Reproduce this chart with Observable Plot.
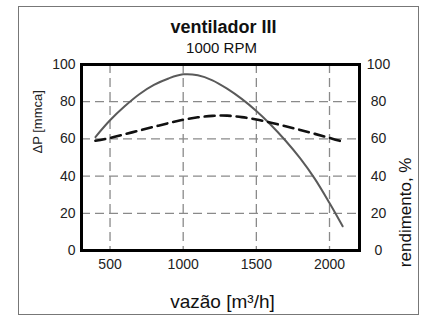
<!DOCTYPE html>
<html>
<head>
<meta charset="utf-8">
<script src="https://cdn.jsdelivr.net/npm/d3@7"></script>
<script src="https://cdn.jsdelivr.net/npm/@observablehq/plot@0.6"></script>
<style>
  html, body { margin: 0; padding: 0; background: #fff; }
  #wrap { position: relative; width: 423px; height: 318px; }
  #border { position: absolute; left: 18px; top: 6px; width: 401px; height: 309px; border: 1.5px solid #777; box-sizing: border-box; pointer-events: none; }
</style>
</head>
<body>
<div id="wrap"><div id="border"></div></div>
<script>
const title = "ventilador III";
const subtitle = "1000 RPM";
const xLabel = "vazão [m³/h]";
const yLeftLabel = "ΔP [mmca]";
const yRightLabel = "rendimento, %";
const xTicks = [500, 1000, 1500, 2000];
const yTicks = [0, 20, 40, 60, 80, 100];

// pressure curve (solid)
const flowP = [400, 500, 600, 700, 800, 900, 1000, 1100, 1200, 1300, 1400, 1500, 1600, 1700, 1800, 1900, 2000, 2090];
const pressure = [61, 70, 77.5, 84, 89, 92.5, 94.7, 94.2, 91.5, 87, 81.5, 75, 67.5, 59, 49.5, 38.5, 25.5, 13];

// efficiency curve (dashed)
const flowE = [400, 500, 600, 700, 800, 900, 1000, 1100, 1200, 1300, 1400, 1500, 1600, 1700, 1800, 1900, 2000, 2100];
const efficiency = [59, 60.5, 62.5, 64.5, 66.5, 68.5, 70.3, 71.6, 72.4, 72.5, 71.7, 70.4, 68.7, 66.8, 64.8, 62.7, 60.5, 58.3];

const pData = flowP.map((x, i) => ({x, y: pressure[i]}));
const eData = flowE.map((x, i) => ({x, y: efficiency[i]}));

const font = "Liberation Sans, Arial, sans-serif";

const chart = Plot.plot({
  width: 423,
  height: 318,
  marginLeft: 81,
  marginRight: 64,
  marginTop: 64,
  marginBottom: 68,
  style: { fontFamily: font, background: "transparent", overflow: "visible" },
  x: { domain: [305, 2205], ticks: xTicks },
  y: { domain: [0, 100], ticks: yTicks },
  marks: [
    Plot.gridX(xTicks, { stroke: "#8a8a8a", strokeOpacity: 1, strokeWidth: 1.3, strokeDasharray: "9,5" }),
    Plot.gridY(yTicks.filter(d => d > 0 && d < 100), { stroke: "#8a8a8a", strokeOpacity: 1, strokeWidth: 1.3, strokeDasharray: "9,5" }),
    Plot.line(pData, { x: "x", y: "y", curve: "catmull-rom", stroke: "#5a5a5a", strokeWidth: 2 }),
    Plot.line(eData, { x: "x", y: "y", curve: "catmull-rom", stroke: "#111", strokeWidth: 2.6, strokeDasharray: "10,6" }),
    Plot.frame({ stroke: "black", strokeWidth: 3 }),
    Plot.axisX(xTicks, { tickSize: 0, tickPadding: 9, fontSize: 14, fill: "#222", label: null, tickFormat: d => String(d) }),
    Plot.axisY(yTicks, { tickSize: 0, tickPadding: 6, fontSize: 14, fill: "#222", label: null, tickFormat: d => String(d) }),
    Plot.text(yTicks, { y: d => d, text: d => String(d), frameAnchor: "right", dx: 19, textAnchor: "middle", fontSize: 14, fill: "#222" }),
    Plot.text([title], { frameAnchor: "top", lineAnchor: "bottom", dy: -32, dx: 3, text: d => d, fontSize: 18, fontWeight: "bold", fill: "#111" }),
    Plot.text([subtitle], { frameAnchor: "top", lineAnchor: "bottom", dy: -12, dx: 1, text: d => d, fontSize: 15, fill: "#111" }),
    Plot.text([xLabel], { frameAnchor: "bottom", lineAnchor: "bottom", dy: 57, dx: 2, text: d => d, fontSize: 19, fill: "#111" }),
    Plot.text([yLeftLabel], { frameAnchor: "left", dx: -44, dy: -4, rotate: -90, text: d => d, fontSize: 13, fill: "#222" }),
    Plot.text([yRightLabel], { frameAnchor: "right", dx: 46, dy: 0, rotate: -90, text: d => d, fontSize: 17, fill: "#111" })
  ]
});
document.getElementById("wrap").appendChild(chart);
chart.style.position = "absolute";
chart.style.left = "0px";
chart.style.top = "0px";
</script>
</body>
</html>
